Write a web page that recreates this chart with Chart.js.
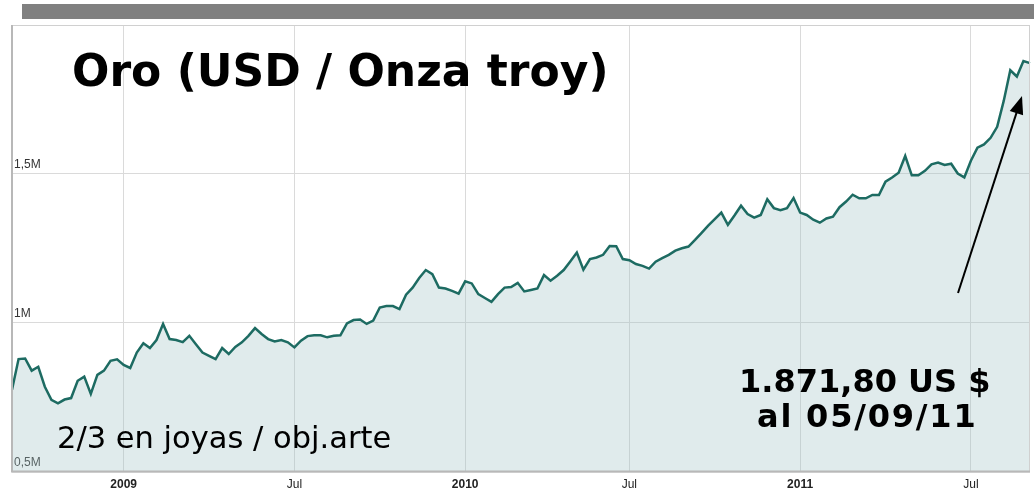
<!DOCTYPE html>
<html>
<head>
<meta charset="utf-8">
<script src="https://cdn.jsdelivr.net/npm/chart.js@4"></script>
<style>
  body { margin: 0; background: #fff; }
  #wrap { position: relative; width: 1034px; height: 492px; overflow: hidden; }
  #bar { position: absolute; left: 22px; top: 4px; width: 1012px; height: 15px; background: #808080; }
  .txt { position: absolute; white-space: nowrap; color: #000; font-family: "DejaVu Sans", Verdana, sans-serif; line-height: 1; }
  #title { left: 72px; top: 49px; font-size: 44px; font-weight: bold; }
  #note { left: 57px; top: 423px; font-size: 30.5px; }
  #price1 { left: 739px; top: 365px; font-size: 32px; font-weight: bold; }
  #price2 { left: 757px; top: 400px; font-size: 32px; font-weight: bold; letter-spacing: 1.8px; }
</style>
</head>
<body>
<div id="wrap">
  <canvas id="myChart" width="1034" height="492"></canvas>
  <div id="bar"></div>
  <div class="txt" id="title">Oro (USD / Onza troy)</div>
  <div class="txt" id="note">2/3 en joyas / obj.arte</div>
  <div class="txt" id="price1">1.871,80 US $</div>
  <div class="txt" id="price2">al 05/09/11</div>
</div>
<script>
// weekly gold price, USD per troy ounce (Sep 2008 - Sep 2011)
const startDate = '2008-09-01';
const prices = [
  775, 878, 880, 839, 852, 785, 741, 729, 742, 747,
  805, 819, 761, 825, 839, 872, 877, 858, 848, 900,
  931, 915, 942, 996, 945, 942, 935, 956, 928, 900,
  889, 878, 915, 895, 919, 934, 956, 982, 962, 945,
  937, 942, 934, 917, 940, 955, 958, 958, 951, 956,
  958, 998, 1009, 1011, 996, 1007, 1051, 1056, 1056, 1046,
  1094, 1118, 1150, 1177, 1163, 1118, 1115, 1107, 1098, 1139,
  1132, 1096, 1083, 1070, 1096, 1118, 1120, 1134, 1105, 1110,
  1115, 1160, 1141, 1158, 1177, 1206, 1236, 1178, 1214, 1219,
  1228, 1258, 1257, 1214, 1210, 1197, 1191, 1182, 1205, 1217,
  1228, 1242, 1250, 1256, 1278, 1302, 1326, 1348, 1370, 1329,
  1360, 1393, 1365, 1353, 1362, 1415, 1385, 1378, 1385, 1419,
  1370, 1362, 1346, 1336, 1350, 1356, 1388, 1407, 1430, 1418,
  1418, 1429, 1429, 1474, 1488, 1504, 1560, 1495, 1495, 1510,
  1532, 1538, 1530, 1534, 1501, 1488, 1544, 1588, 1599, 1621,
  1658, 1745, 1848, 1827, 1879, 1871.8
];

// x-axis ticks: week index where each label sits
const tickWeeks = [17, 43, 69, 94, 120, 146];
const tickLabels = ['2009', 'Jul', '2010', 'Jul', '2011', 'Jul'];

// y-axis
const yTicks = [500, 1000, 1500, 2000];
const yTickLabels = ['0,5M', '1M', '1,5M', ''];

var weeks = [];
var d0 = new Date(startDate + 'T00:00:00Z');
for (var i = 0; i < prices.length; i++) {
    var d = new Date(d0.getTime() + i * 7 * 86400000);
    weeks.push(d.toISOString().slice(0, 10));
}

const frame = {
    id: 'frame',
    afterDraw(chart) {
        const c = chart.ctx, a = chart.chartArea;
        c.save();
        c.strokeStyle = '#d0d0d0';
        c.lineWidth = 1;
        c.strokeRect(a.left + 0.5, a.top + 0.5, a.right - a.left - 1, a.bottom - a.top);
        c.strokeStyle = '#b8b8b8';
        c.lineWidth = 2;
        c.beginPath();
        c.moveTo(a.left, a.top);
        c.lineTo(a.left, a.bottom);
        c.lineTo(a.right, a.bottom);
        c.stroke();

        // arrow pointing at the last price
        const x1 = 958, y1 = 293, x2 = 1022, y2 = 96;
        const ang = Math.atan2(y2 - y1, x2 - x1);
        c.strokeStyle = '#000';
        c.fillStyle = '#000';
        c.lineWidth = 2;
        c.beginPath();
        c.moveTo(x1, y1);
        c.lineTo(x2 - 12 * Math.cos(ang), y2 - 12 * Math.sin(ang));
        c.stroke();
        c.beginPath();
        c.moveTo(x2, y2);
        c.lineTo(x2 - 18 * Math.cos(ang) + 7 * Math.sin(ang), y2 - 18 * Math.sin(ang) - 7 * Math.cos(ang));
        c.lineTo(x2 - 18 * Math.cos(ang) - 7 * Math.sin(ang), y2 - 18 * Math.sin(ang) + 7 * Math.cos(ang));
        c.closePath();
        c.fill();
        c.restore();
    }
};

const ctx = document.getElementById('myChart').getContext('2d');
const myChart = new Chart(ctx, {
    type: 'line',
    data: {
        labels: weeks,
        datasets: [{
            label: 'Oro',
            data: prices,
            borderColor: '#1d6b62',
            borderWidth: 2.5,
            backgroundColor: 'rgba(160,195,198,0.33)',
            fill: 'start',
            pointRadius: 0,
            tension: 0
        }]
    },
    options: {
        responsive: false,
        animation: false,
        layout: { padding: { top: 25, left: 8, right: 4, bottom: -6 } },
        plugins: {
            legend: { display: false },
            tooltip: { enabled: false }
        },
        scales: {
            x: {
                type: 'category',
                afterBuildTicks: function(scale) {
                    scale.ticks = tickWeeks.map(function(v) { return { value: v }; });
                },
                grid: { color: '#dadada', lineWidth: 1, drawTicks: false },
                border: { display: false },
                ticks: {
                    autoSkip: false,
                    maxRotation: 0,
                    padding: 6,
                    color: '#222',
                    font: function(c) {
                        return { family: 'Liberation Sans, Arial, sans-serif', size: 12, weight: c.index % 2 === 0 ? 'bold' : 'normal' };
                    },
                    callback: function(value, index) { return tickLabels[index]; }
                }
            },
            y: {
                min: 500,
                max: 2000,
                afterBuildTicks: function(scale) {
                    scale.ticks = yTicks.map(function(v) { return { value: v }; });
                },
                grid: { color: '#dadada', lineWidth: 1, drawTicks: false },
                border: { display: false },
                ticks: {
                    mirror: true,
                    padding: 2,
                    labelOffset: -9,
                    color: '#333',
                    font: { family: 'Liberation Sans, Arial, sans-serif', size: 12 },
                    callback: function(value, index) { return yTickLabels[index]; }
                }
            }
        }
    },
    plugins: [frame]
});
</script>
</body>
</html>
